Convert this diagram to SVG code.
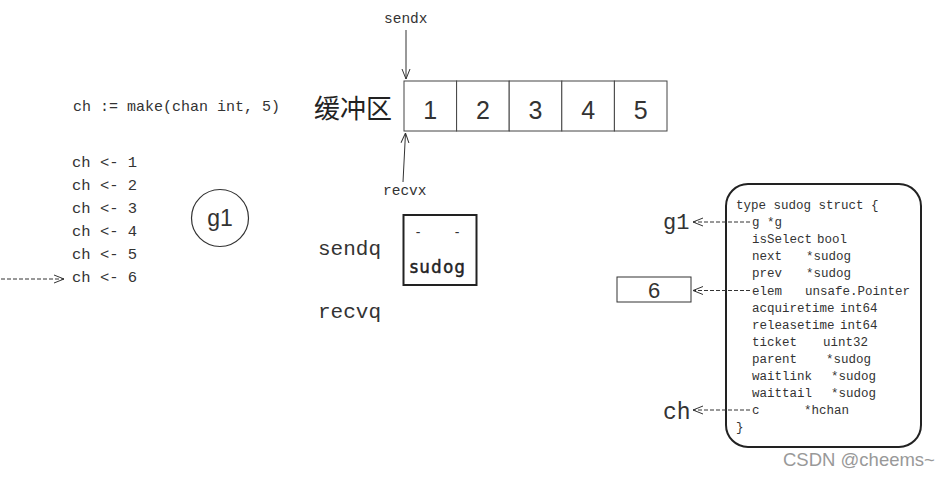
<svg xmlns="http://www.w3.org/2000/svg" width="949" height="477" viewBox="0 0 949 477">
<style>
.mono{font-family:"Liberation Mono","DejaVu Sans Mono",monospace;fill:#333}
.sans{font-family:"Liberation Sans","DejaVu Sans",sans-serif;fill:#333}
.cjk{font-family:"Noto Sans CJK SC",sans-serif;fill:#222}
.st{font-family:"Liberation Mono","DejaVu Sans Mono",monospace;fill:#333;font-size:12.5px}
.ln{stroke:#333;stroke-width:1;fill:none}
.dash{stroke:#333;stroke-width:1;fill:none;stroke-dasharray:4 2}
.cell{fill:#fff;stroke:#444;stroke-width:1}
</style>
<defs>
<marker id="arr" viewBox="0 0 10 10" refX="10" refY="5" markerWidth="10" markerHeight="10" markerUnits="userSpaceOnUse" orient="auto">
<path d="M0,1 L10,5 L0,9" fill="none" stroke="#333" stroke-width="1"/>
</marker>
</defs>
<rect width="949" height="477" fill="#fff"/>

<g id="code">
<text class="mono" x="73" y="111" font-size="15">ch := make(chan int, 5)</text>
<text class="mono" x="72" y="167" font-size="15.5">ch &lt;- 1</text>
<text class="mono" x="72" y="190" font-size="15.5">ch &lt;- 2</text>
<text class="mono" x="72" y="213" font-size="15.5">ch &lt;- 3</text>
<text class="mono" x="72" y="236" font-size="15.5">ch &lt;- 4</text>
<text class="mono" x="72" y="259" font-size="15.5">ch &lt;- 5</text>
<text class="mono" x="72" y="282" font-size="15.5">ch &lt;- 6</text>
</g>

<g id="g1-circle">
<circle cx="220" cy="218" r="28.5" fill="none" stroke="#333" stroke-width="1.2"/>
<text class="sans" x="220" y="226" font-size="23" text-anchor="middle">g1</text>
</g>

<g id="buffer">
<text class="cjk" x="314" y="118" font-size="26">缓冲区</text>
<rect class="cell" x="404" y="81" width="52.6" height="50"/>
<rect class="cell" x="456.6" y="81" width="52.6" height="50"/>
<rect class="cell" x="509.2" y="81" width="52.6" height="50"/>
<rect class="cell" x="561.8" y="81" width="52.6" height="50"/>
<rect class="cell" x="614.4" y="81" width="52.6" height="50"/>
<text class="sans" x="430.3" y="119" font-size="25" text-anchor="middle">1</text>
<text class="sans" x="482.9" y="119" font-size="25" text-anchor="middle">2</text>
<text class="sans" x="535.5" y="119" font-size="25" text-anchor="middle">3</text>
<text class="sans" x="588.1" y="119" font-size="25" text-anchor="middle">4</text>
<text class="sans" x="640.7" y="119" font-size="25" text-anchor="middle">5</text>
</g>

<g id="sendx">
<text class="mono" x="384" y="23" font-size="14.5">sendx</text>
</g>
<g id="recvx">
<text class="mono" x="383" y="195" font-size="14.5">recvx</text>
</g>

<g id="queues">
<text class="mono" x="318" y="255" font-size="21">sendq</text>
<text class="mono" x="318" y="318" font-size="21">recvq</text>
</g>

<g id="sudog-box">
<rect x="403.5" y="215" width="73" height="70" fill="#fff" stroke="#222" stroke-width="2"/>
<text class="sans" x="418" y="237" font-size="14" text-anchor="middle" fill="#222">-</text>
<text class="sans" x="457" y="237" font-size="14" text-anchor="middle" fill="#222">-</text>
<text x="438" y="273" font-size="18" text-anchor="middle" font-family="DejaVu Sans Condensed, DejaVu Sans, sans-serif" fill="#222" stroke="#222" stroke-width="0.5" letter-spacing="1.5">sudog</text>
</g>

<g id="struct">
<rect x="726" y="184" width="195" height="263" rx="22" ry="22" fill="#fff" stroke="#222" stroke-width="2"/>
<text class="st" x="736" y="209">type sudog struct {</text>
<text class="st" x="752" y="226.1">g *g</text>
<text class="st" y="243.2"><tspan x="752">isSelect</tspan><tspan x="817">bool</tspan></text>
<text class="st" y="260.3"><tspan x="752">next</tspan><tspan x="806">*sudog</tspan></text>
<text class="st" y="277.4"><tspan x="752">prev</tspan><tspan x="806">*sudog</tspan></text>
<text class="st" y="294.5"><tspan x="752">elem</tspan><tspan x="805">unsafe.Pointer</tspan></text>
<text class="st" y="311.6"><tspan x="752">acquiretime</tspan><tspan x="840">int64</tspan></text>
<text class="st" y="328.7"><tspan x="752">releasetime</tspan><tspan x="840">int64</tspan></text>
<text class="st" y="345.8"><tspan x="752">ticket</tspan><tspan x="823">uint32</tspan></text>
<text class="st" y="362.9"><tspan x="752">parent</tspan><tspan x="826">*sudog</tspan></text>
<text class="st" y="380"><tspan x="752">waitlink</tspan><tspan x="831">*sudog</tspan></text>
<text class="st" y="397.1"><tspan x="752">waittail</tspan><tspan x="831">*sudog</tspan></text>
<text class="st" y="414.2"><tspan x="752">c</tspan><tspan x="804">*hchan</tspan></text>
<text class="st" x="736" y="431.3">}</text>
</g>

<g id="g1-label">
<text class="mono" x="663" y="229" font-size="22">g1</text>
</g>
<g id="elem-box">
<rect x="617" y="277" width="74" height="25" fill="#fff" stroke="#333" stroke-width="1"/>
<text class="sans" x="654" y="298" font-size="22" text-anchor="middle">6</text>
</g>
<g id="ch-label">
<text class="mono" x="663" y="419" font-size="23">ch</text>
</g>

<g id="watermark">
<text x="783" y="466" font-size="18.5" font-family="Liberation Sans, DejaVu Sans, sans-serif" fill="#999">CSDN @cheems~</text>
</g>

<g id="connectors">
<line class="dash" x1="1" y1="279" x2="64" y2="279" marker-end="url(#arr)"/>
<line class="ln" x1="406" y1="30" x2="406" y2="79" marker-end="url(#arr)"/>
<line class="ln" x1="403" y1="182" x2="405.5" y2="133" marker-end="url(#arr)"/>
<line class="dash" x1="750" y1="222" x2="693" y2="222" marker-end="url(#arr)"/>
<line class="dash" x1="750" y1="290.5" x2="693" y2="290.5" marker-end="url(#arr)"/>
<line class="dash" x1="750" y1="410" x2="693" y2="410" marker-end="url(#arr)"/>
</g>
</svg>
